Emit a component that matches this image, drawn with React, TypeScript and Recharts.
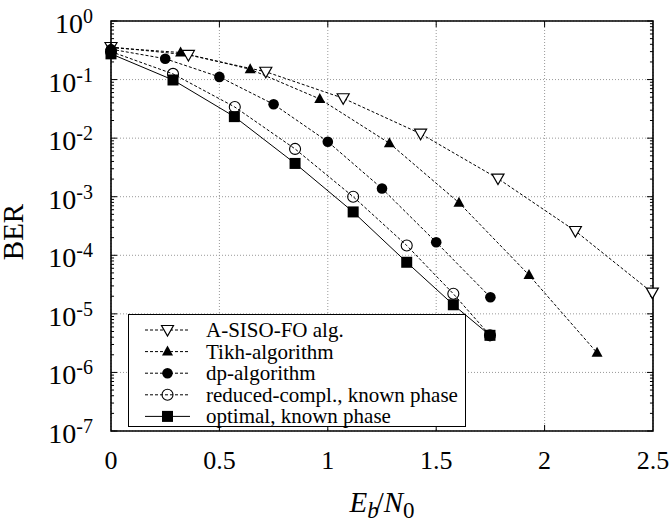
import React from 'react';
import {
  LineChart, Line, XAxis, YAxis, CartesianGrid, ReferenceLine, ReferenceArea, Legend,
} from 'recharts';

// BER curves
const asisoX = [0, 0.357, 0.714, 1.071, 1.428, 1.785, 2.142, 2.497];
const asisoY = [0.36, 0.263, 0.136, 0.048, 0.0119, 0.00204, 2.6e-4, 2.3e-5];

const tikhX = [0, 0.321, 0.642, 0.963, 1.284, 1.605, 1.928, 2.242];
const tikhY = [0.35, 0.29, 0.15, 0.0467, 0.0082, 7.9e-4, 4.6e-5, 2.16e-6];

const dpX = [0, 0.25, 0.5, 0.75, 1.0, 1.25, 1.5, 1.75];
const dpY = [0.33, 0.227, 0.111, 0.0379, 0.0087, 0.00138, 1.67e-4, 1.92e-5];

const reducedX = [0, 0.286, 0.571, 0.849, 1.117, 1.364, 1.579, 1.748];
const reducedY = [0.3, 0.125, 0.034, 0.00655, 0.001, 1.47e-4, 2.2e-5, 4.3e-6];

const optimalX = [0, 0.286, 0.569, 0.849, 1.117, 1.364, 1.579, 1.748];
const optimalY = [0.275, 0.0984, 0.0233, 0.0037, 5.5e-4, 7.6e-5, 1.43e-5, 4.3e-6];

const X_TICKS = [0, 0.5, 1, 1.5, 2, 2.5];
const Y_TICKS = [1e-7, 1e-6, 1e-5, 1e-4, 1e-3, 1e-2, 1e-1, 1];
const MINOR_STEPS = [2, 3, 4, 5, 6, 7, 8, 9];

const FONT = "'Liberation Serif', 'DejaVu Serif', serif";

const zip = (xs: number[], ys: number[]) => xs.map((x, i) => ({ x, y: ys[i] }));

type MarkerKind = 'triDown' | 'triUp' | 'dot' | 'ring' | 'square';

const Marker = ({ kind, cx, cy }: { kind: MarkerKind; cx: number; cy: number }) => {
  switch (kind) {
    case 'triDown':
      return (
        <polygon
          points={`${cx - 6},${cy - 4.5} ${cx + 6},${cy - 4.5} ${cx},${cy + 6}`}
          fill="#fff" stroke="#000" strokeWidth={1.2}
        />
      );
    case 'triUp':
      return <polygon points={`${cx},${cy - 6} ${cx + 5.5},${cy + 4} ${cx - 5.5},${cy + 4}`} fill="#000" />;
    case 'dot':
      return <circle cx={cx} cy={cy} r={5.3} fill="#000" />;
    case 'ring':
      return <circle cx={cx} cy={cy} r={5.5} fill="none" stroke="#000" strokeWidth={1.1} />;
    default:
      return <rect x={cx - 5.5} y={cy - 5.5} width={11} height={11} fill="#000" />;
  }
};

const series = [
  { name: 'A-SISO-FO alg.', data: zip(asisoX, asisoY), marker: 'triDown' as MarkerKind, dashed: true },
  { name: 'Tikh-algorithm', data: zip(tikhX, tikhY), marker: 'triUp' as MarkerKind, dashed: true },
  { name: 'dp-algorithm', data: zip(dpX, dpY), marker: 'dot' as MarkerKind, dashed: true },
  { name: 'reduced-compl., known phase', data: zip(reducedX, reducedY), marker: 'ring' as MarkerKind, dashed: true },
  { name: 'optimal, known phase', data: zip(optimalX, optimalY), marker: 'square' as MarkerKind, dashed: false },
];

const DASH = '3 2';

const YTick = (props: any) => {
  const { x, y, payload } = props;
  const exp = Math.round(Math.log10(payload.value));
  return (
    <text x={x - 16} y={y + 12} textAnchor="end" fontFamily={FONT} fontSize={28} fill="#000">
      10<tspan dy={-10} fontSize={20}>{exp}</tspan>
    </text>
  );
};

const XTick = (props: any) => {
  const { x, y, payload } = props;
  return (
    <text x={x} y={y + 36} textAnchor="middle" fontFamily={FONT} fontSize={26} fill="#000">
      {payload.value}
    </text>
  );
};

const XLabel = (props: any) => {
  const vb = props.viewBox || { x: 111, y: 431, width: 542 };
  const cx = vb.x + vb.width / 2;
  return (
    <text x={cx} y={vb.y + 81} textAnchor="middle" fontFamily={FONT} fontSize={29} fill="#000">
      <tspan fontStyle="italic">E</tspan>
      <tspan fontStyle="italic" fontSize={23} dy={6}>b</tspan>
      <tspan dy={-6} dx={-3}>/</tspan>
      <tspan fontStyle="italic">N</tspan>
      <tspan fontSize={23} dy={6}>0</tspan>
    </text>
  );
};

const YLabel = (props: any) => {
  const vb = props.viewBox || { x: 0, y: 21, width: 111, height: 410 };
  const cx = 14;
  const cy = vb.y + vb.height / 2 + 6;
  return (
    <text
      x={cx} y={cy} dy={9} transform={`rotate(-90 ${cx} ${cy})`}
      textAnchor="middle" fontFamily={FONT} fontSize={29} fill="#000"
    >
      BER
    </text>
  );
};

const LegendBox = () => (
  <svg width={338} height={114} style={{ display: 'block', overflow: 'visible' }}>
    <rect x={0.5} y={0.5} width={337} height={112} fill="#fff" stroke="#000" strokeWidth={1} />
    {series.map((s, i) => {
      const y = 16 + i * 21.6;
      return (
        <g key={s.name}>
          <line
            x1={17} x2={62} y1={y} y2={y} stroke="#000" strokeWidth={1}
            strokeDasharray={s.dashed ? DASH : undefined}
          />
          <Marker kind={s.marker} cx={39.5} cy={y} />
          <text x={78} y={y + 7} fontFamily={FONT} fontSize={21} fill="#000">{s.name}</text>
        </g>
      );
    })}
  </svg>
);

// inward tick lengths in data units (about 6px / 3px)
const X_MAJ = 0.028;
const X_MIN = 0.014;
const Y_FAC = 1.27;

const App = () => {
  const yTickVals: { v: number; major: boolean }[] = [];
  Y_TICKS.forEach((d) => {
    yTickVals.push({ v: d, major: true });
    if (d < 1) MINOR_STEPS.forEach((m) => yTickVals.push({ v: d * m, major: false }));
  });
  const innerX = X_TICKS.slice(1, -1);

  return (
    <div style={{ position: 'absolute', left: 0, top: 0, width: 672, height: 521, background: '#fff' }}>
      <LineChart
        width={672}
        height={521}
        margin={{ top: 21, right: 19, bottom: 30, left: 0 }}
      >
        <CartesianGrid stroke="#999" strokeDasharray="1 2" />
        <XAxis
          type="number" dataKey="x" domain={[0, 2.5]} ticks={X_TICKS} interval={0}
          tickLine={false} axisLine={false} tickSize={0} height={60}
          tick={<XTick />} label={(p: any) => <XLabel {...p} />}
        />
        <YAxis
          type="number" scale="log" domain={[1e-7, 1]} ticks={Y_TICKS} interval={0}
          tickLine={false} axisLine={false} tickSize={0} width={111}
          tick={<YTick />} label={(p: any) => <YLabel {...p} />}
        />
        {yTickVals.map(({ v, major }) => {
          const len = major ? X_MAJ : X_MIN;
          return (
            <React.Fragment key={`yt-${v}`}>
              <ReferenceLine segment={[{ x: 0, y: v }, { x: len, y: v }]} stroke="#000" ifOverflow="visible" />
              <ReferenceLine segment={[{ x: 2.5 - len, y: v }, { x: 2.5, y: v }]} stroke="#000" ifOverflow="visible" />
            </React.Fragment>
          );
        })}
        {innerX.map((t) => (
          <React.Fragment key={`xt-${t}`}>
            <ReferenceLine segment={[{ x: t, y: 1e-7 }, { x: t, y: 1e-7 * Y_FAC }]} stroke="#000" ifOverflow="visible" />
            <ReferenceLine segment={[{ x: t, y: 1 }, { x: t, y: 1 / Y_FAC }]} stroke="#000" ifOverflow="visible" />
          </React.Fragment>
        ))}
        {series.map((s) => (
          <Line
            key={s.name}
            data={s.data}
            dataKey="y"
            name={s.name}
            type="linear"
            stroke="#000"
            strokeWidth={1}
            strokeDasharray={s.dashed ? DASH : undefined}
            isAnimationActive={false}
            activeDot={false}
            dot={(p: any) => (
              <g key={`${s.name}-${p.index}`}>
                <Marker kind={s.marker} cx={p.cx} cy={p.cy} />
              </g>
            )}
          />
        ))}
        <ReferenceArea
          x1={0} x2={2.5} y1={1e-7} y2={1} fill="none" stroke="#000" strokeWidth={1.6}
          fillOpacity={0} ifOverflow="visible"
        />
        <Legend
          layout="vertical" align="center" verticalAlign="middle"
          content={() => <LegendBox />}
          wrapperStyle={{ position: 'absolute', left: 128, top: 314, width: 338, height: 114 }}
        />
      </LineChart>
    </div>
  );
};

export default App;
